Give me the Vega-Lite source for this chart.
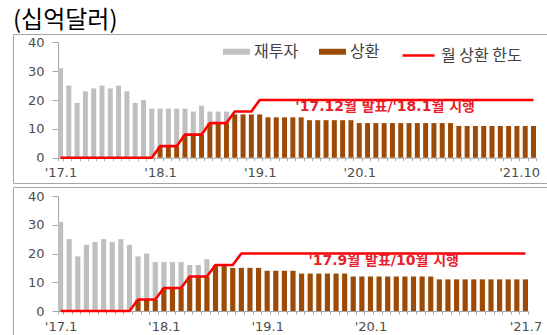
{
  "$schema": "https://vega.github.io/schema/vega-lite/v6.json",
  "background": "white",
  "padding": {"left": 12, "top": 8, "right": 0, "bottom": 0},
  "title": {
    "text": "(십억달러)",
    "anchor": "start",
    "frame": "group",
    "font": "Noto Sans CJK KR",
    "fontSize": 24,
    "fontWeight": "normal",
    "color": "#000000",
    "offset": 1
  },
  "spacing": 2,
  "datasets": {
    "상단": [
      {"월": "17.1", "재투자": 31, "상환": 0, "한도": 0},
      {"월": "17.2", "재투자": 25, "상환": 0, "한도": 0},
      {"월": "17.3", "재투자": 19, "상환": 0, "한도": 0},
      {"월": "17.4", "재투자": 23, "상환": 0, "한도": 0},
      {"월": "17.5", "재투자": 24, "상환": 0, "한도": 0},
      {"월": "17.6", "재투자": 25, "상환": 0, "한도": 0},
      {"월": "17.7", "재투자": 24, "상환": 0, "한도": 0},
      {"월": "17.8", "재투자": 25, "상환": 0, "한도": 0},
      {"월": "17.9", "재투자": 23, "상환": 0, "한도": 0},
      {"월": "17.10", "재투자": 19, "상환": 0, "한도": 0},
      {"월": "17.11", "재투자": 20, "상환": 0, "한도": 0},
      {"월": "17.12", "재투자": 17, "상환": 0, "한도": 0},
      {"월": "18.1", "재투자": 13, "상환": 4, "한도": 4},
      {"월": "18.2", "재투자": 13, "상환": 4, "한도": 4},
      {"월": "18.3", "재투자": 13, "상환": 4, "한도": 4},
      {"월": "18.4", "재투자": 9, "상환": 8, "한도": 8},
      {"월": "18.5", "재투자": 8, "상환": 8, "한도": 8},
      {"월": "18.6", "재투자": 10, "상환": 8, "한도": 8},
      {"월": "18.7", "재투자": 4, "상환": 12, "한도": 12},
      {"월": "18.8", "재투자": 4, "상환": 12, "한도": 12},
      {"월": "18.9", "재투자": 4, "상환": 12, "한도": 12},
      {"월": "18.10", "재투자": 0, "상환": 15, "한도": 16},
      {"월": "18.11", "재투자": 0, "상환": 15, "한도": 16},
      {"월": "18.12", "재투자": 0, "상환": 15, "한도": 16},
      {"월": "19.1", "재투자": 0, "상환": 15, "한도": 20},
      {"월": "19.2", "재투자": 0, "상환": 14, "한도": 20},
      {"월": "19.3", "재투자": 0, "상환": 14, "한도": 20},
      {"월": "19.4", "재투자": 0, "상환": 14, "한도": 20},
      {"월": "19.5", "재투자": 0, "상환": 14, "한도": 20},
      {"월": "19.6", "재투자": 0, "상환": 14, "한도": 20},
      {"월": "19.7", "재투자": 0, "상환": 13, "한도": 20},
      {"월": "19.8", "재투자": 0, "상환": 13, "한도": 20},
      {"월": "19.9", "재투자": 0, "상환": 13, "한도": 20},
      {"월": "19.10", "재투자": 0, "상환": 13, "한도": 20},
      {"월": "19.11", "재투자": 0, "상환": 13, "한도": 20},
      {"월": "19.12", "재투자": 0, "상환": 13, "한도": 20},
      {"월": "20.1", "재투자": 0, "상환": 12, "한도": 20},
      {"월": "20.2", "재투자": 0, "상환": 12, "한도": 20},
      {"월": "20.3", "재투자": 0, "상환": 12, "한도": 20},
      {"월": "20.4", "재투자": 0, "상환": 12, "한도": 20},
      {"월": "20.5", "재투자": 0, "상환": 12, "한도": 20},
      {"월": "20.6", "재투자": 0, "상환": 12, "한도": 20},
      {"월": "20.7", "재투자": 0, "상환": 12, "한도": 20},
      {"월": "20.8", "재투자": 0, "상환": 12, "한도": 20},
      {"월": "20.9", "재투자": 0, "상환": 12, "한도": 20},
      {"월": "20.10", "재투자": 0, "상환": 12, "한도": 20},
      {"월": "20.11", "재투자": 0, "상환": 12, "한도": 20},
      {"월": "20.12", "재투자": 0, "상환": 12, "한도": 20},
      {"월": "21.1", "재투자": 0, "상환": 11, "한도": 20},
      {"월": "21.2", "재투자": 0, "상환": 11, "한도": 20},
      {"월": "21.3", "재투자": 0, "상환": 11, "한도": 20},
      {"월": "21.4", "재투자": 0, "상환": 11, "한도": 20},
      {"월": "21.5", "재투자": 0, "상환": 11, "한도": 20},
      {"월": "21.6", "재투자": 0, "상환": 11, "한도": 20},
      {"월": "21.7", "재투자": 0, "상환": 11, "한도": 20},
      {"월": "21.8", "재투자": 0, "상환": 11, "한도": 20},
      {"월": "21.9", "재투자": 0, "상환": 11, "한도": 20},
      {"월": "21.10", "재투자": 0, "상환": 11, "한도": 20}
    ],
    "하단": [
      {"월": "17.1", "재투자": 31, "상환": 0, "한도": 0},
      {"월": "17.2", "재투자": 25, "상환": 0, "한도": 0},
      {"월": "17.3", "재투자": 19, "상환": 0, "한도": 0},
      {"월": "17.4", "재투자": 23, "상환": 0, "한도": 0},
      {"월": "17.5", "재투자": 24, "상환": 0, "한도": 0},
      {"월": "17.6", "재투자": 25, "상환": 0, "한도": 0},
      {"월": "17.7", "재투자": 24, "상환": 0, "한도": 0},
      {"월": "17.8", "재투자": 25, "상환": 0, "한도": 0},
      {"월": "17.9", "재투자": 23, "상환": 0, "한도": 0},
      {"월": "17.10", "재투자": 15, "상환": 4, "한도": 4},
      {"월": "17.11", "재투자": 16, "상환": 4, "한도": 4},
      {"월": "17.12", "재투자": 13, "상환": 4, "한도": 4},
      {"월": "18.1", "재투자": 9, "상환": 8, "한도": 8},
      {"월": "18.2", "재투자": 9, "상환": 8, "한도": 8},
      {"월": "18.3", "재투자": 9, "상환": 8, "한도": 8},
      {"월": "18.4", "재투자": 4, "상환": 12, "한도": 12},
      {"월": "18.5", "재투자": 4, "상환": 12, "한도": 12},
      {"월": "18.6", "재투자": 6, "상환": 12, "한도": 12},
      {"월": "18.7", "재투자": 0, "상환": 16, "한도": 16},
      {"월": "18.8", "재투자": 0, "상환": 16, "한도": 16},
      {"월": "18.9", "재투자": 0, "상환": 15, "한도": 16},
      {"월": "18.10", "재투자": 0, "상환": 15, "한도": 20},
      {"월": "18.11", "재투자": 0, "상환": 15, "한도": 20},
      {"월": "18.12", "재투자": 0, "상환": 15, "한도": 20},
      {"월": "19.1", "재투자": 0, "상환": 14, "한도": 20},
      {"월": "19.2", "재투자": 0, "상환": 14, "한도": 20},
      {"월": "19.3", "재투자": 0, "상환": 14, "한도": 20},
      {"월": "19.4", "재투자": 0, "상환": 14, "한도": 20},
      {"월": "19.5", "재투자": 0, "상환": 13, "한도": 20},
      {"월": "19.6", "재투자": 0, "상환": 13, "한도": 20},
      {"월": "19.7", "재투자": 0, "상환": 13, "한도": 20},
      {"월": "19.8", "재투자": 0, "상환": 13, "한도": 20},
      {"월": "19.9", "재투자": 0, "상환": 13, "한도": 20},
      {"월": "19.10", "재투자": 0, "상환": 13, "한도": 20},
      {"월": "19.11", "재투자": 0, "상환": 12, "한도": 20},
      {"월": "19.12", "재투자": 0, "상환": 12, "한도": 20},
      {"월": "20.1", "재투자": 0, "상환": 12, "한도": 20},
      {"월": "20.2", "재투자": 0, "상환": 12, "한도": 20},
      {"월": "20.3", "재투자": 0, "상환": 12, "한도": 20},
      {"월": "20.4", "재투자": 0, "상환": 12, "한도": 20},
      {"월": "20.5", "재투자": 0, "상환": 12, "한도": 20},
      {"월": "20.6", "재투자": 0, "상환": 12, "한도": 20},
      {"월": "20.7", "재투자": 0, "상환": 12, "한도": 20},
      {"월": "20.8", "재투자": 0, "상환": 12, "한도": 20},
      {"월": "20.9", "재투자": 0, "상환": 11, "한도": 20},
      {"월": "20.10", "재투자": 0, "상환": 11, "한도": 20},
      {"월": "20.11", "재투자": 0, "상환": 11, "한도": 20},
      {"월": "20.12", "재투자": 0, "상환": 11, "한도": 20},
      {"월": "21.1", "재투자": 0, "상환": 11, "한도": 20},
      {"월": "21.2", "재투자": 0, "상환": 11, "한도": 20},
      {"월": "21.3", "재투자": 0, "상환": 11, "한도": 20},
      {"월": "21.4", "재투자": 0, "상환": 11, "한도": 20},
      {"월": "21.5", "재투자": 0, "상환": 11, "한도": 20},
      {"월": "21.6", "재투자": 0, "상환": 11, "한도": 20},
      {"월": "21.7", "재투자": 0, "상환": 11, "한도": 20}
    ]
  },
  "resolve": {
    "scale": {"x": "independent", "y": "independent", "color": "independent", "stroke": "independent"},
    "axis": {"x": "independent", "y": "independent"},
    "legend": {"color": "independent", "stroke": "independent"}
  },
  "vconcat": [
    {
      "width": 540,
      "height": 149,
      "data": {"name": "상단"},
      "transform": [{"fold": ["상환", "재투자"], "as": ["구분", "값"]}],
      "layer": [
        {
          "mark": {"type": "bar"},
          "encoding": {
            "x": {
              "field": "월", "type": "ordinal", "sort": null, "title": null,
              "scale": {"range": [45, 523], "paddingInner": 0.4, "paddingOuter": 0},
              "axis": {
                "offset": -25.3,
                "labelExpr": "indexof(['17.1','18.1','19.1','20.1','21.10'], datum.value) >= 0 ? \"'\" + datum.value : ''",
                "labelAlign": {"condition": {"test": "datum.value == '21.10'", "value": "right"}, "value": "center"},
                "labelOffset": {"condition": {"test": "datum.value == '21.10'", "value": 6}, "value": 0}
              }
            },
            "y": {
              "field": "값", "type": "quantitative", "stack": "zero", "title": null,
              "scale": {"domain": [0, 40], "range": [123.7, 8.3], "nice": false}
            },
            "color": {
              "field": "구분", "type": "nominal",
              "scale": {"domain": ["재투자", "상환"], "range": ["#bfbfbf", "#9c4a06"]},
              "legend": {
                "title": null, "orient": "none", "legendX": 210, "legendY": 4, "direction": "horizontal",
                "padding": 0, "symbolType": "M-1,-0.22H1V0.22H-1Z", "symbolSize": 729, "symbolStrokeWidth": 0,
                "labelFont": "Noto Sans CJK KR", "labelFontSize": 16, "labelColor": "#404040",
                "labelOffset": 4, "columnPadding": 20
              }
            },
            "order": {"field": "구분", "sort": "ascending"}
          }
        },
        {
          "transform": [{"filter": "datum['구분'] === '상환'"}],
          "mark": {"type": "line", "strokeWidth": 2.6, "strokeJoin": "round"},
          "encoding": {
            "x": {"field": "월", "type": "ordinal", "sort": null, "title": null},
            "y": {"field": "한도", "type": "quantitative", "title": null},
            "stroke": {
              "datum": "월 상환 한도",
              "scale": {"range": ["#ff0000"]},
              "legend": {
                "title": null, "orient": "none", "legendX": 388, "legendY": 4,
                "padding": 0, "symbolType": "stroke", "symbolSize": 1024, "symbolStrokeWidth": 2.5,
                "labelFont": "Noto Sans CJK KR", "labelFontSize": 16, "labelColor": "#404040", "labelOffset": 5
              }
            }
          }
        },
        {
          "data": {"values": [{"문구": "'17.12월 발표/'18.1월 시행"}]},
          "mark": {"type": "text", "font": "DejaVu Sans, Noto Sans CJK KR", "fontSize": 14, "fontWeight": "bold", "color": "#e8202a", "baseline": "middle", "dy": 7, "dx": 1},
          "encoding": {
            "x": {"datum": "20.4", "type": "ordinal"},
            "y": {"datum": 20, "type": "quantitative"},
            "text": {"field": "문구"}
          }
        }
      ]
    },
    {
      "width": 540,
      "height": 152,
      "data": {"name": "하단"},
      "transform": [{"fold": ["상환", "재투자"], "as": ["구분", "값"]}],
      "layer": [
        {
          "mark": {"type": "bar"},
          "encoding": {
            "x": {
              "field": "월", "type": "ordinal", "sort": null, "title": null,
              "scale": {"range": [45, 515], "paddingInner": 0.4, "paddingOuter": 0},
              "axis": {
                "offset": -28,
                "labelExpr": "indexof(['17.1','18.1','19.1','20.1','21.7'], datum.value) >= 0 ? \"'\" + datum.value : ''"
              }
            },
            "y": {
              "field": "값", "type": "quantitative", "stack": "zero", "title": null,
              "scale": {"domain": [0, 40], "range": [124, 9], "nice": false}
            },
            "color": {
              "field": "구분", "type": "nominal",
              "scale": {"domain": ["재투자", "상환"], "range": ["#bfbfbf", "#9c4a06"]},
              "legend": null
            },
            "order": {"field": "구분", "sort": "ascending"}
          }
        },
        {
          "transform": [{"filter": "datum['구분'] === '상환'"}],
          "mark": {"type": "line", "strokeWidth": 2.6, "strokeJoin": "round"},
          "encoding": {
            "x": {"field": "월", "type": "ordinal", "sort": null, "title": null},
            "y": {"field": "한도", "type": "quantitative", "title": null},
            "stroke": {"datum": "월 상환 한도", "scale": {"range": ["#ff0000"]}, "legend": null}
          }
        },
        {
          "data": {"values": [{"문구": "'17.9월 발표/10월 시행"}]},
          "mark": {"type": "text", "font": "DejaVu Sans, Noto Sans CJK KR", "fontSize": 14, "fontWeight": "bold", "color": "#e8202a", "baseline": "middle", "dy": 7, "dx": -4},
          "encoding": {
            "x": {"datum": "20.3", "type": "ordinal"},
            "y": {"datum": 20, "type": "quantitative"},
            "text": {"field": "문구"}
          }
        }
      ]
    }
  ],
  "config": {
    "view": {"stroke": "#a6a6a6", "strokeWidth": 1},
    "axis": {
      "grid": false, "title": null,
      "labelFont": "DejaVu Sans", "labelFontSize": 13, "labelColor": "#4d4d4d",
      "tickColor": "#a6a6a6", "domainColor": "#a6a6a6", "labelOverlap": false, "labelBound": false
    },
    "axisY": {"offset": -45, "tickCount": 4, "labelPadding": 8, "tickSize": 6, "labelOverlap": false},
    "axisX": {"labelAngle": 0, "labelPadding": 6, "tickSize": 3, "tickBand": "extent", "labelOverlap": false}
  }
}
